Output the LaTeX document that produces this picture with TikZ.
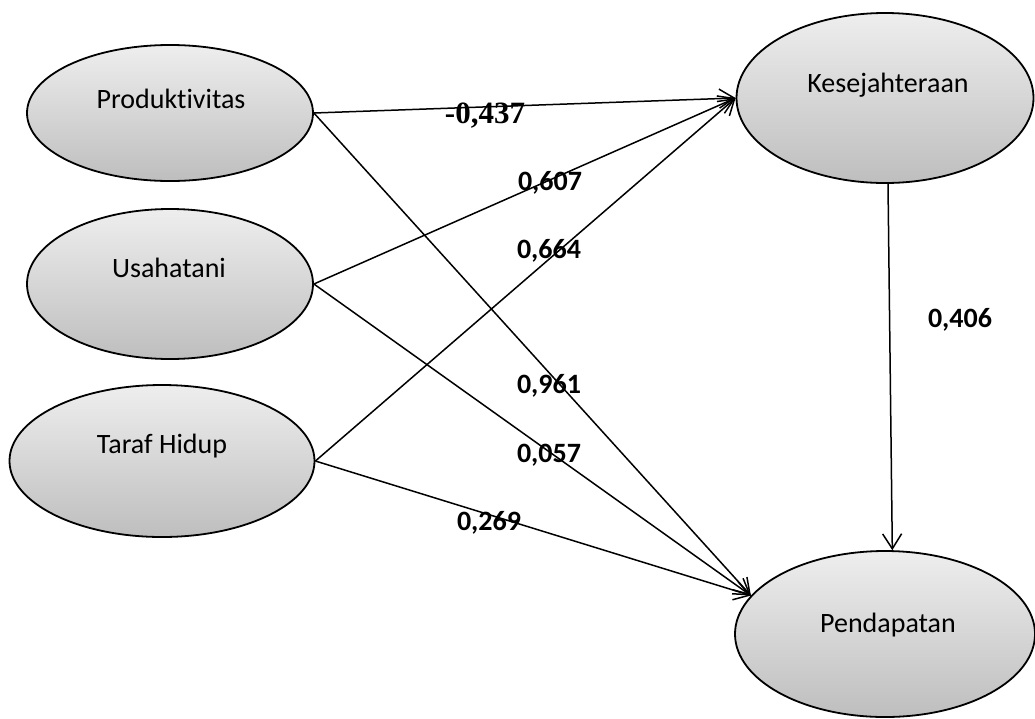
\documentclass[tikz,border=0pt]{standalone}
\usepackage{fontspec}
\setmainfont{Carlito}[Ligatures=NoCommon]
\newfontfamily\timesb{Liberation Serif}
\usetikzlibrary{arrows.meta,shapes.geometric}
\definecolor{topgray}{RGB}{238,238,238}
\definecolor{botgray}{RGB}{190,190,190}
\tikzset{
  var/.style={ellipse, draw=black, line width=1.8pt, top color=topgray, bottom color=botgray, inner sep=0pt},
  vtext/.style={anchor=base, inner sep=0pt, font=\fontsize{28}{34}\selectfont},
  coef/.style={anchor=base, inner sep=0pt, font=\fontsize{28}{34}\selectfont\bfseries},
  arr/.style={line width=1.5pt, -{Straight Barb[length=15pt,width=19pt,line width=1.5pt]}}
}
\begin{document}
\begin{tikzpicture}[x=1pt,y=-1pt]
\useasboundingbox (0,0) rectangle (1035,718);
\fill[white] (0,0) rectangle (1035,718);
% variables
\node[var, minimum width=286pt, minimum height=136pt] (prod) at (170,113) {};
\node[var, minimum width=286pt, minimum height=150pt] (usaha) at (170,284) {};
\node[var, minimum width=305pt, minimum height=152pt] (taraf) at (162,461) {};
\node[var, minimum width=297pt, minimum height=170pt] (kes) at (885,98) {};
\node[var, minimum width=300pt, minimum height=166pt] (pend) at (885,634) {};
% variable texts
\node[vtext] (tprod) at (171,108) {Produktivitas};
\node[vtext] (tusaha) at (169,277) {Usahatani};
\node[vtext] (ttaraf) at (162,453) {Taraf Hidup};
\node[vtext] (tkes) at (888,92) {Kesejahteraan};
\node[vtext] (tpend) at (888,632) {Pendapatan};
% paths
\draw[arr] (prod.east) -- (kes.west);
\draw[arr] (usaha.east) -- (kes.west);
\draw[arr] (taraf.east) -- (kes.west);
\draw[arr] (prod.east) -- (pend.164);
\draw[arr] (usaha.east) -- (pend.164);
\draw[arr] (taraf.east) -- (pend.164);
\draw[arr] (kes.272) -- (pend.85);
% coefficients
\node[anchor=base, inner sep=0pt] (c1) at (485,123) {\timesb\bfseries\fontsize{31}{36}\selectfont -0,437};
\node[coef] (c2) at (550,190) {0,607};
\node[coef] (c3) at (549,258) {0,664};
\node[coef] (c4) at (549,393) {0,961};
\node[coef] (c5) at (549,462) {0,057};
\node[coef] (c6) at (489,530) {0,269};
\node[coef] (c7) at (960,327) {0,406};
\end{tikzpicture}
\end{document}
